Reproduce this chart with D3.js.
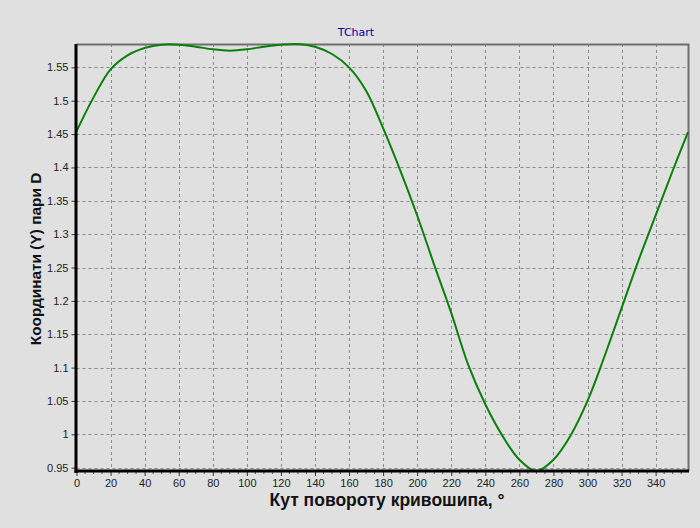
<!DOCTYPE html>
<html>
<head>
<meta charset="utf-8">
<script src="https://cdn.jsdelivr.net/npm/d3@7"></script>
<style>
  body { margin: 0; background: #e0e0e0; }
  svg { display: block; }
</style>
</head>
<body>
<div class="chart-div"></div>
<script>
// crank angle, degrees
var angles = [0, 10, 20, 30, 40, 50, 60, 70, 80, 90, 100, 110, 120, 130, 140, 150, 160, 170,
  180, 190, 200, 210, 220, 230, 240, 250, 260, 270, 280, 290, 300, 310, 320, 330, 340, 350, 359];
// Y coordinate of point D
var yD = [1.454, 1.505, 1.547, 1.568, 1.579, 1.584, 1.584, 1.581, 1.577, 1.575, 1.577, 1.581, 1.584, 1.585,
  1.581, 1.570, 1.550, 1.515, 1.459, 1.396, 1.328, 1.254, 1.182, 1.104, 1.045, 0.998, 0.962, 0.945,
  0.962, 0.998, 1.050, 1.117, 1.189, 1.261, 1.328, 1.395, 1.453];
var xTicks = d3.range(0, 360, 20);
var yTicks = [0.95, 1, 1.05, 1.1, 1.15, 1.2, 1.25, 1.3, 1.35, 1.4, 1.45, 1.5, 1.55];

var W = 700, H = 528;
var pLeft = 76.5, pRight = 688, pTop = 44, pBottom = 471;

var data = angles.map(function(a, i) { return {x: a, y: yD[i]}; });

var x = d3.scaleLinear().domain([0, 359]).range([pLeft, pRight]);
var y = d3.scaleLinear().domain(d3.extent(yD)).range([pBottom, pTop]);

var svg = d3.select(".chart-div").append("svg")
    .attr("width", W)
    .attr("height", H)
    .style("font-family", "Arial, 'Liberation Sans', sans-serif");

svg.append("rect").attr("width", W).attr("height", H).attr("fill", "#e0e0e0");

// title
svg.append("text")
    .attr("x", 356).attr("y", 36)
    .attr("text-anchor", "middle")
    .style("font-size", "11px")
    .style("font-family", "Tahoma, 'DejaVu Sans', sans-serif")
    .attr("fill", "#0000a0")
    .text("TChart");

// grid
var grid = svg.append("g").attr("stroke", "#8a8a8a").attr("stroke-dasharray", "3,3").attr("stroke-width", 1);
grid.selectAll(".gx").data(xTicks.slice(1)).enter().append("line")
    .attr("class", "gx")
    .attr("x1", function(d) { return Math.round(x(d)) + 0.5; })
    .attr("x2", function(d) { return Math.round(x(d)) + 0.5; })
    .attr("y1", pTop).attr("y2", pBottom);
grid.selectAll(".gy").data(yTicks).enter().append("line")
    .attr("class", "gy")
    .attr("y1", function(d) { return Math.round(y(d)) + 0.5; })
    .attr("y2", function(d) { return Math.round(y(d)) + 0.5; })
    .attr("x1", pLeft).attr("x2", pRight);

// frame (top + right gray)
svg.append("path")
    .attr("d", "M" + pLeft + "," + (pTop + 0.5) + "H" + (pRight + 0.5) + "V" + pBottom)
    .attr("fill", "none")
    .attr("stroke", "#6e6e6e")
    .attr("stroke-width", 2);

// series
svg.append("path")
    .datum(data)
    .attr("fill", "none")
    .attr("stroke", "#0a800a")
    .attr("stroke-width", 2)
    .attr("d", d3.line()
      .x(function(d) { return x(d.x); })
      .y(function(d) { return y(d.y); })
      .curve(d3.curveCatmullRom.alpha(0.5)));

// x axis
var xAxis = d3.axisBottom(x).tickValues(xTicks).tickSize(4).tickPadding(3).tickFormat(d3.format("d"));
var gx = svg.append("g").attr("transform", "translate(0," + (pBottom + 1) + ")").call(xAxis);
gx.select(".domain").remove();
gx.selectAll("text").style("font-size", "11px").attr("fill", "#222");
gx.selectAll("line").attr("stroke", "#333");

// minor ticks every 5
svg.append("g").selectAll("line")
    .data(d3.range(5, 360, 5).filter(function(d) { return d % 20 != 0; }))
    .enter().append("line")
    .attr("x1", function(d) { return x(d); })
    .attr("x2", function(d) { return x(d); })
    .attr("y1", pBottom + 1).attr("y2", pBottom + 3)
    .attr("stroke", "#555");

// y axis
var yAxis = d3.axisLeft(y).tickValues(yTicks).tickSize(4).tickPadding(3).tickFormat(function(d) { return String(d); });
var gy = svg.append("g").attr("transform", "translate(" + (pLeft - 1) + ",0)").call(yAxis);
gy.select(".domain").remove();
gy.selectAll("text").style("font-size", "11px").attr("fill", "#222");
gy.selectAll("line").attr("stroke", "#333");

// thick axis lines
svg.append("line").attr("x1", pLeft - 0.5).attr("x2", pLeft - 0.5).attr("y1", pTop).attr("y2", pBottom + 2)
    .attr("stroke", "#000").attr("stroke-width", 3);
svg.append("line").attr("x1", pLeft - 2).attr("x2", pRight + 1).attr("y1", pBottom).attr("y2", pBottom)
    .attr("stroke", "#000").attr("stroke-width", 3);

// axis titles
svg.append("text")
    .attr("x", 387).attr("y", 506)
    .attr("text-anchor", "middle")
    .style("font-size", "17.5px")
    .style("font-weight", "bold")
    .attr("fill", "#111")
    .text("Кут повороту кривошипа, °");

svg.append("text")
    .attr("transform", "translate(41,259) rotate(-90)")
    .attr("text-anchor", "middle")
    .style("font-size", "15.4px")
    .style("font-weight", "bold")
    .attr("fill", "#111")
    .text("Координати (Y) пари D");
</script>
</body>
</html>
